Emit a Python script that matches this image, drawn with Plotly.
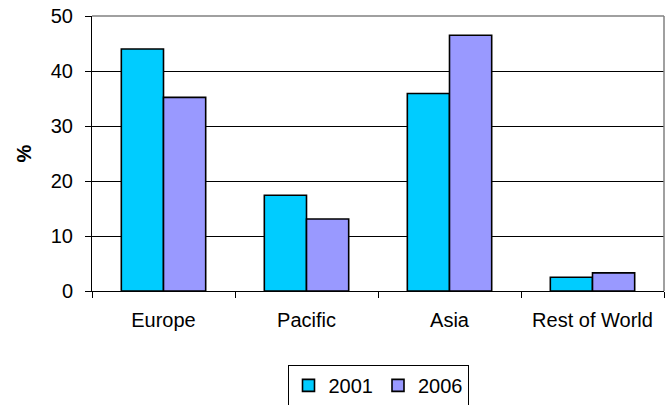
import plotly.graph_objects as go

regions = ["Europe", "Pacific", "Asia", "Rest of World"]
share_2001 = [44.0, 17.4, 35.9, 2.5]
share_2006 = [35.2, 13.1, 46.5, 3.3]
y_ticks = [0, 10, 20, 30, 40, 50]

font_family = "Liberation Sans, Arial, sans-serif"

fig = go.Figure()
fig.add_trace(go.Bar(
    name="2001", x=regions, y=share_2001,
    marker=dict(color="#00CCFF", line=dict(color="#000000", width=1.6)),
))
fig.add_trace(go.Bar(
    name="2006", x=regions, y=share_2006,
    marker=dict(color="#9999FF", line=dict(color="#000000", width=1.6)),
))

fig.update_layout(
    width=671, height=405,
    margin=dict(l=92, r=7, t=16, b=114, autoexpand=False),
    paper_bgcolor="white", plot_bgcolor="white",
    barmode="group", bargap=0.41, bargroupgap=0,
    font=dict(family=font_family, size=20, color="#000000"),
    showlegend=True,
    legend=dict(
        orientation="h", x=0.5, xanchor="center",
        yref="container", y=0.099, yanchor="top",
        bordercolor="#000000", borderwidth=1, bgcolor="white",
        font=dict(size=20), itemwidth=30, tracegroupgap=0,
    ),
)

fig.update_xaxes(
    automargin=False,
    showline=True, linecolor="#000000", linewidth=1,
    mirror=False, ticks="outside", tickson="boundaries",
    ticklen=6, tickcolor="#000000", showgrid=False,
    tickfont=dict(size=20), ticklabelstandoff=11,
)
fig.update_yaxes(
    automargin=False,
    range=[0, 50], tickvals=y_ticks,
    showline=True, linecolor="#000000", linewidth=1,
    ticks="outside", ticklen=6, tickcolor="#000000",
    showgrid=True, gridcolor="#000000", gridwidth=1,
    tickfont=dict(size=20), ticklabelstandoff=8,
    title=dict(text="<b>%</b>", font=dict(size=20), standoff=13),
)

# grey frame on the top and right of the plot area
fig.add_shape(type="line", xref="paper", yref="paper", x0=0, x1=1, y0=1, y1=1,
              line=dict(color="#808080", width=1.5))
fig.add_shape(type="line", xref="paper", yref="paper", x0=1, x1=1, y0=0, y1=1,
              line=dict(color="#808080", width=1.5))

fig.write_html("out.html")
